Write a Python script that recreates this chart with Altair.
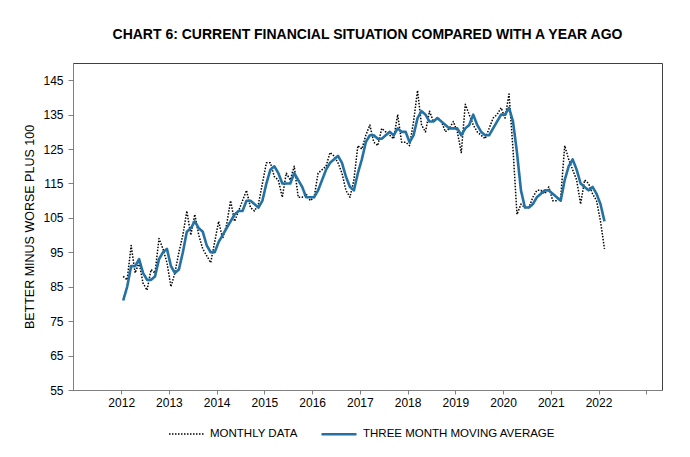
import altair as alt
import pandas as pd

start_year = 2012
series_names = ["MONTHLY DATA", "THREE MONTH MOVING AVERAGE"]

# Monthly data, Jan 2012 - Feb 2022
monthly = [
    88, 87, 97, 89, 92, 86, 84, 90, 89, 99, 96, 92,          # 2012
    85, 89, 95, 100, 107, 100, 106, 100, 96, 94, 92, 98,     # 2013
    104, 99, 103, 110, 104, 107, 110, 113, 108, 107, 109, 115,  # 2014
    121, 121, 117, 116, 111, 118, 116, 120, 111, 111, 112, 110,  # 2015
    111, 118, 119, 120, 124, 123, 121, 118, 113, 111, 116, 126,  # 2016
    125, 129, 132, 127, 126, 131, 130, 129, 128, 135, 127, 127,  # 2017
    126, 133, 142, 132, 130, 136, 133, 134, 133, 130, 131, 133,  # 2018
    130, 124, 138, 135, 132, 130, 129, 128, 131, 134, 135, 137,  # 2019
    134, 141, 125, 106, 109, 108, 108, 111, 113, 113, 112, 114,  # 2020
    110, 110, 111, 126, 122, 119, 116, 109, 116, 115, 112, 110,  # 2021
    104, 96,                                                  # 2022
]

# Three month moving average, Jan 2012 - Feb 2022
moving_avg = [
    81, 85, 91, 91, 93, 89, 87, 87, 88, 93, 95, 96,          # 2012
    91, 89, 90, 95, 101, 102, 104, 102, 101, 97, 95, 95,     # 2013
    98, 100, 102, 104, 106, 107, 107, 110, 110, 109, 108, 110,  # 2014
    115, 119, 120, 118, 115, 115, 115, 118, 116, 114, 111, 111,  # 2015
    111, 113, 116, 119, 121, 122, 123, 121, 117, 114, 113, 118,  # 2016
    122, 127, 129, 129, 128, 128, 129, 130, 129, 131, 130, 130,  # 2017
    127, 129, 134, 136, 135, 133, 133, 134, 133, 132, 131, 131,  # 2018
    131, 129, 131, 132, 135, 132, 130, 129, 129, 131, 133, 135,  # 2019
    135, 137, 133, 124, 113, 108, 108, 109, 111, 112, 113, 113,  # 2020
    112, 111, 110, 116, 120, 122, 119, 115, 114, 113, 114, 112,  # 2021
    109, 104,                                                 # 2022
]

year_ticks = list(range(2012, 2024))
y_ticks = list(range(55, 150, 10))

rows = []
for i, v in enumerate(monthly):
    rows.append({"t": start_year + (i + 0.5) / 12, "value": v, "series": series_names[0]})
for i, v in enumerate(moving_avg):
    rows.append({"t": start_year + (i + 0.5) / 12, "value": v, "series": series_names[1]})
df = pd.DataFrame(rows)

FONT = "Liberation Sans"

legend = alt.Legend(
    title=None,
    orient="none",
    legendX=95,
    legendY=352,
    direction="horizontal",
    symbolType="stroke",
    symbolSize=1225,
    labelFontSize=11.5,
    labelFont=FONT,
    labelColor="#000000",
    labelLimit=0,
    columnPadding=18,
    labelOffset=5,
    padding=0,
)

chart = alt.Chart(df).mark_line(strokeCap="butt", strokeJoin="round").encode(
    x=alt.X(
        "t:Q",
        scale=alt.Scale(domain=[2010.99, 2023.33], nice=False, zero=False),
        axis=alt.Axis(
            values=year_ticks,
            format="d",
            labelExpr="datum.value == 2023 ? '' : datum.label",
            title=None,
            grid=False,
            tickSize=4,
            labelPadding=3,
            labelFontSize=12,
            labelFont=FONT,
            labelColor="#000000",
            domainColor="#808080",
            tickColor="#808080",
        ),
    ),
    y=alt.Y(
        "value:Q",
        scale=alt.Scale(domain=[55, 150], nice=False, zero=False),
        axis=alt.Axis(
            values=y_ticks,
            title="BETTER MINUS WORSE PLUS 100",
            titleFont=FONT,
            titleFontSize=12.5,
            titleFontWeight="normal",
            titleColor="#000000",
            titlePadding=6,
            grid=False,
            tickSize=5,
            labelPadding=5,
            labelFontSize=12,
            labelFont=FONT,
            labelColor="#000000",
            domainColor="#808080",
            tickColor="#808080",
        ),
    ),
    color=alt.Color(
        "series:N",
        scale=alt.Scale(domain=series_names, range=["#000000", "#2471A3"]),
        legend=legend,
    ),
    strokeDash=alt.StrokeDash(
        "series:N",
        scale=alt.Scale(domain=series_names, range=[[1.5, 1.5], [1, 0]]),
        legend=legend,
    ),
    strokeWidth=alt.StrokeWidth(
        "series:N",
        scale=alt.Scale(domain=series_names, range=[1.5, 2.6]),
        legend=legend,
    ),
).properties(
    width=589,
    height=327,
    padding={"left": 65, "top": 55, "right": 20, "bottom": 60},
    autosize="none",
    title=alt.TitleParams(
        text="CHART 6: CURRENT FINANCIAL SITUATION COMPARED WITH A YEAR AGO",
        font=FONT,
        fontSize=14,
        fontWeight="bold",
        color="#000000",
        anchor="middle",
        offset=21,
    ),
).configure_view(stroke="#404040", strokeWidth=1)

chart.save("out.html", embed_options={"renderer": "svg", "actions": False})
